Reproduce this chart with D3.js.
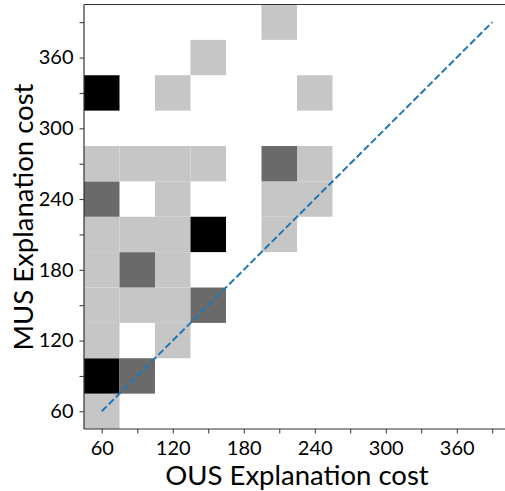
<!DOCTYPE html>
<html>
<head>
<meta charset="utf-8">
<script src="https://cdn.jsdelivr.net/npm/d3@7"></script>
<style>
  body { margin: 0; background: #fff; }
  text { font-family: Lato, "DejaVu Sans", sans-serif; fill: #000; }
</style>
</head>
<body>
<svg width="505" height="491"></svg>
<script>
// bin centres (OUS cost on x, MUS cost on y), bin width 30
var binX = [60, 60, 90, 60, 120, 60, 90, 120, 150, 60, 90, 120, 60, 90, 120, 150, 210,
            60, 120, 210, 240, 60, 90, 120, 150, 210, 240, 60, 120, 240, 150, 210];
var binY = [60, 90, 90, 120, 120, 150, 150, 150, 150, 180, 180, 180, 210, 210, 210, 210, 210,
            240, 240, 240, 240, 270, 270, 270, 270, 270, 270, 330, 330, 330, 360, 390];
// shade level per bin: 1 light, 2 dark, 3 black
var binLevel = [1, 3, 2, 1, 1, 1, 1, 1, 2, 1, 2, 1, 1, 1, 1, 3, 1,
                2, 1, 1, 1, 1, 1, 1, 1, 2, 1, 3, 1, 1, 1, 1];
var binWidth = 30;

var tickMajor = [60, 120, 180, 240, 300, 360];
var tickMinor = [90, 150, 210, 270, 330, 390];
var diagLine = [60, 390];

var svg = d3.select("svg");

var x = d3.scaleLinear().domain([45, 405]).range([84, 510]);
var y = d3.scaleLinear().domain([45, 405]).range([429, 4.5]);
var shade = d3.scaleOrdinal().domain([1, 2, 3]).range(["#c6c6c6", "#6a6a6a", "#000000"]);

// cells
var cells = binX.map(function (v, i) { return { x: v, y: binY[i], l: binLevel[i] }; });
svg.append("g").selectAll("rect").data(cells).join("rect")
    .attr("x", function (d) { return x(d.x - binWidth / 2); })
    .attr("y", function (d) { return y(d.y + binWidth / 2); })
    .attr("width", function (d) { return x(d.x + binWidth / 2) - x(d.x - binWidth / 2); })
    .attr("height", function (d) { return y(d.y - binWidth / 2) - y(d.y + binWidth / 2); })
    .attr("fill", function (d) { return shade(d.l); });

// diagonal
svg.append("line")
    .attr("x1", x(diagLine[0])).attr("y1", y(diagLine[0]))
    .attr("x2", x(diagLine[1])).attr("y2", y(diagLine[1]))
    .attr("stroke", "#1f77b4").attr("stroke-width", 2)
    .attr("stroke-dasharray", "7,3");

// axes
var xAxis = d3.axisBottom(x).tickValues(tickMajor.concat(tickMinor))
    .tickFormat(function (d) { return tickMajor.indexOf(d) >= 0 ? d : ""; })
    .tickSize(4.5).tickPadding(7);
var yAxis = d3.axisLeft(y).tickValues(tickMajor.concat(tickMinor))
    .tickFormat(function (d) { return tickMajor.indexOf(d) >= 0 ? d : ""; })
    .tickSize(4.5).tickPadding(6);

var gx = svg.append("g").attr("transform", "translate(0,429)").call(xAxis);
var gy = svg.append("g").attr("transform", "translate(84,0)").call(yAxis);
[gx, gy].forEach(function (g) {
    g.select(".domain").remove();
    g.selectAll(".tick line").attr("stroke", "#333").attr("stroke-width", 1);
    g.selectAll(".tick text").style("font-size", "20px").style("font-family", "Lato, sans-serif").attr("fill", "#000");
});

// spines
svg.append("line").attr("x1", 84).attr("x2", 505).attr("y1", 429).attr("y2", 429).attr("stroke", "#333").attr("stroke-width", 1.2);
svg.append("line").attr("x1", 84).attr("x2", 505).attr("y1", 4.5).attr("y2", 4.5).attr("stroke", "#333").attr("stroke-width", 1.2);
svg.append("line").attr("x1", 84).attr("x2", 84).attr("y1", 4.5).attr("y2", 429).attr("stroke", "#333").attr("stroke-width", 1.2);

// labels
svg.append("text").attr("x", 297).attr("y", 485).attr("text-anchor", "middle")
    .style("font-size", "27.5px").text("OUS Explanation cost");
svg.append("text").attr("transform", "translate(33,217) rotate(-90)").attr("text-anchor", "middle")
    .style("font-size", "27.5px").text("MUS Explanation cost");
</script>
</body>
</html>
